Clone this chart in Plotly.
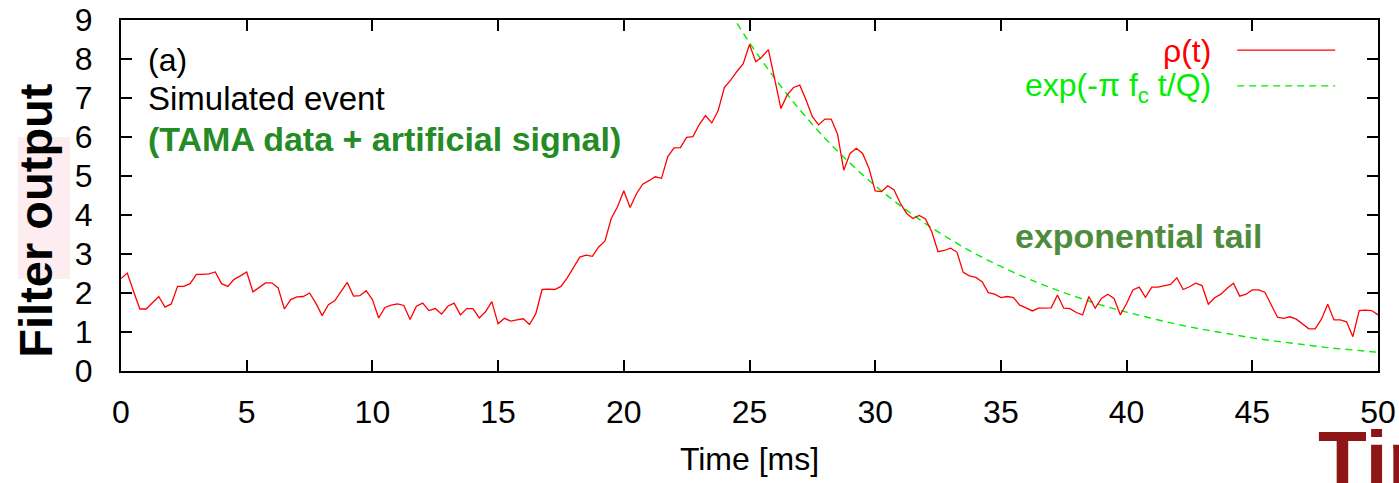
import plotly.graph_objects as go

# ---- data ----
dt_ms = 0.25
rho_values = [
    2.37, 2.51, 2.04, 1.59, 1.59, 1.76, 1.91, 1.64, 1.72, 2.17,  # 0.00-2.25
    2.17, 2.24, 2.48, 2.48, 2.49, 2.54, 2.24, 2.17, 2.35, 2.44,  # 2.50-4.75
    2.54, 2.03, 2.14, 2.26, 2.26, 2.13, 1.59, 1.83, 1.90, 1.91,  # 5.00-7.25
    2.00, 1.74, 1.42, 1.70, 1.80, 2.04, 2.27, 1.92, 1.93, 2.06,  # 7.50-9.75
    1.83, 1.36, 1.63, 1.69, 1.72, 1.68, 1.32, 1.66, 1.74, 1.55,  # 10.00-12.25
    1.60, 1.46, 1.66, 1.74, 1.44, 1.60, 1.60, 1.36, 1.52, 1.78,  # 12.50-14.75
    1.21, 1.35, 1.28, 1.31, 1.34, 1.19, 1.47, 2.09, 2.10, 2.09,  # 15.00-17.25
    2.17, 2.39, 2.66, 2.92, 2.97, 2.94, 3.18, 3.33, 3.91, 4.21,  # 17.50-19.75
    4.62, 4.19, 4.54, 4.79, 4.88, 4.98, 4.94, 5.50, 5.72, 5.73,  # 20.00-22.25
    5.99, 6.01, 6.32, 6.55, 6.36, 6.67, 7.27, 7.46, 7.68, 7.88,  # 22.50-24.75
    8.37, 7.93, 8.06, 8.24, 7.49, 6.73, 7.08, 7.27, 7.33, 6.95,  # 25.00-27.25
    6.52, 6.31, 6.46, 6.46, 6.08, 5.15, 5.58, 5.71, 5.58, 5.20,  # 27.50-29.75
    4.62, 4.60, 4.75, 4.64, 4.30, 4.04, 3.91, 3.99, 3.90, 3.57,  # 30.00-32.25
    3.06, 3.09, 3.15, 3.05, 2.53, 2.44, 2.40, 2.29, 2.01, 1.97,  # 32.50-34.75
    1.88, 1.91, 1.88, 1.69, 1.62, 1.54, 1.61, 1.62, 1.62, 1.95,  # 35.00-37.25
    1.61, 1.60, 1.50, 1.44, 1.91, 1.61, 1.86, 1.97, 1.86, 1.44,  # 37.50-39.75
    1.73, 2.08, 2.15, 1.89, 2.15, 2.15, 2.19, 2.22, 2.39, 2.09,  # 40.00-42.25
    2.16, 2.25, 2.19, 1.71, 1.88, 1.97, 2.12, 2.25, 1.92, 1.97,  # 42.50-44.75
    2.08, 2.08, 2.02, 1.69, 1.38, 1.35, 1.39, 1.33, 1.20, 1.08,  # 45.00-47.25
    1.08, 1.33, 1.71, 1.31, 1.31, 1.26, 0.88, 1.55, 1.56, 1.55,  # 47.50-49.75
    1.44,                                                        # 50.00
]
rho_time = [i * dt_ms for i in range(len(rho_values))]

exp_time = [24, 25, 26, 27, 28, 29, 30, 31, 32, 33, 34, 35, 36, 37,
            38, 39, 40, 41, 42, 43, 44, 45, 46, 47, 48, 49, 50]
exp_values = [9.44, 8.42, 7.51, 6.70, 5.97, 5.33, 4.75, 4.24, 3.78, 3.37,
              3.00, 2.68, 2.39, 2.13, 1.90, 1.69, 1.51, 1.35, 1.20, 1.07,
              0.96, 0.85, 0.76, 0.68, 0.60, 0.54, 0.48]

x_ticks = [0, 5, 10, 15, 20, 25, 30, 35, 40, 45, 50]
y_ticks = [0, 1, 2, 3, 4, 5, 6, 7, 8, 9]

FONT = "Liberation Sans, Arial, Helvetica, sans-serif"
RED = "#ff0000"
LIME = "#00ee00"

fig = go.Figure()
fig.add_trace(go.Scatter(x=exp_time, y=exp_values, mode="lines",
                         line=dict(color=LIME, width=1.4, dash="7px,5px", shape="spline"),
                         showlegend=False, hoverinfo="skip"))
fig.add_trace(go.Scatter(x=rho_time, y=rho_values, mode="lines",
                         line=dict(color=RED, width=1.3),
                         showlegend=False))

axis_common = dict(showline=True, linecolor="black", linewidth=2, mirror="allticks",
                   ticks="inside", tickcolor="black", tickwidth=2, ticklen=11,
                   showgrid=False, zeroline=False, automargin=False,
                   tickfont=dict(family=FONT, size=32, color="black"))

fig.update_xaxes(range=[0, 50], tickvals=x_ticks, ticklabelstandoff=12,
                 title=dict(text="Time [ms]", font=dict(family=FONT, size=32, color="black"),
                            standoff=18),
                 **axis_common)
fig.update_yaxes(range=[0, 9], tickvals=y_ticks, ticklabelstandoff=20, **axis_common)

annotations = [
    dict(x=1.0, y=7.97, text="(a)", font=dict(size=32, color="black")),
    dict(x=1.0, y=7.0, text="Simulated event", font=dict(size=33, color="black")),
    dict(x=1.0, y=5.95, text="<b>(TAMA data + artificial signal)</b>",
         font=dict(size=34, color="#258b25")),
    dict(x=35.5, y=3.45, text="<b>exponential tail</b>", font=dict(size=34, color="#4c8c3c")),
]
anns = []
for a in annotations:
    a["font"]["family"] = FONT
    anns.append(dict(xref="x", yref="y", xanchor="left", yanchor="middle",
                     showarrow=False, **a))

# legend (gnuplot style: label left of the sample line)
anns.append(dict(xref="x", yref="y", x=43.45, y=8.2, xanchor="right", yanchor="middle",
                 text="ρ(t)", showarrow=False, font=dict(family=FONT, size=32, color=RED)))
anns.append(dict(xref="x", yref="y", x=43.45, y=7.28, xanchor="right", yanchor="middle",
                 text="exp(-π f<sub>c</sub> t/Q)", showarrow=False,
                 font=dict(family=FONT, size=32, color=LIME)))

# y-axis title
anns.append(dict(xref="paper", yref="paper", x=-0.068, y=0.427, xanchor="center",
                 yanchor="middle", textangle=-90, text="<b>Filter output</b>",
                 showarrow=False, font=dict(family=FONT, size=47, color="black")))

# cropped big label at bottom right (cut by the page edge, as in the reference)
anns.append(dict(xref="paper", yref="paper", x=0.951, y=-0.12, xanchor="left",
                 yanchor="top", text="<b>Time</b>", showarrow=False,
                 font=dict(family=FONT, size=80, color="#8e1616")))

shapes = [
    dict(type="rect", xref="paper", yref="paper", x0=-0.0820, x1=-0.0406,
         y0=(371 - 279) / 351, y1=(371 - 137) / 351, fillcolor="#fdecf0",
         line=dict(width=0), layer="below"),
    dict(type="line", xref="x", yref="y", x0=44.4, x1=48.3, y0=8.23, y1=8.23,
         line=dict(color=RED, width=1.3)),
    dict(type="line", xref="x", yref="y", x0=44.4, x1=48.3, y0=7.31, y1=7.31,
         line=dict(color=LIME, width=1.4, dash="7px,5px")),
]

fig.update_layout(width=1399, height=483, margin=dict(l=121, r=21, t=20, b=112),
                  paper_bgcolor="white", plot_bgcolor="white",
                  annotations=anns, shapes=shapes, showlegend=False,
                  font=dict(family=FONT))

fig.write_html("out.html")
